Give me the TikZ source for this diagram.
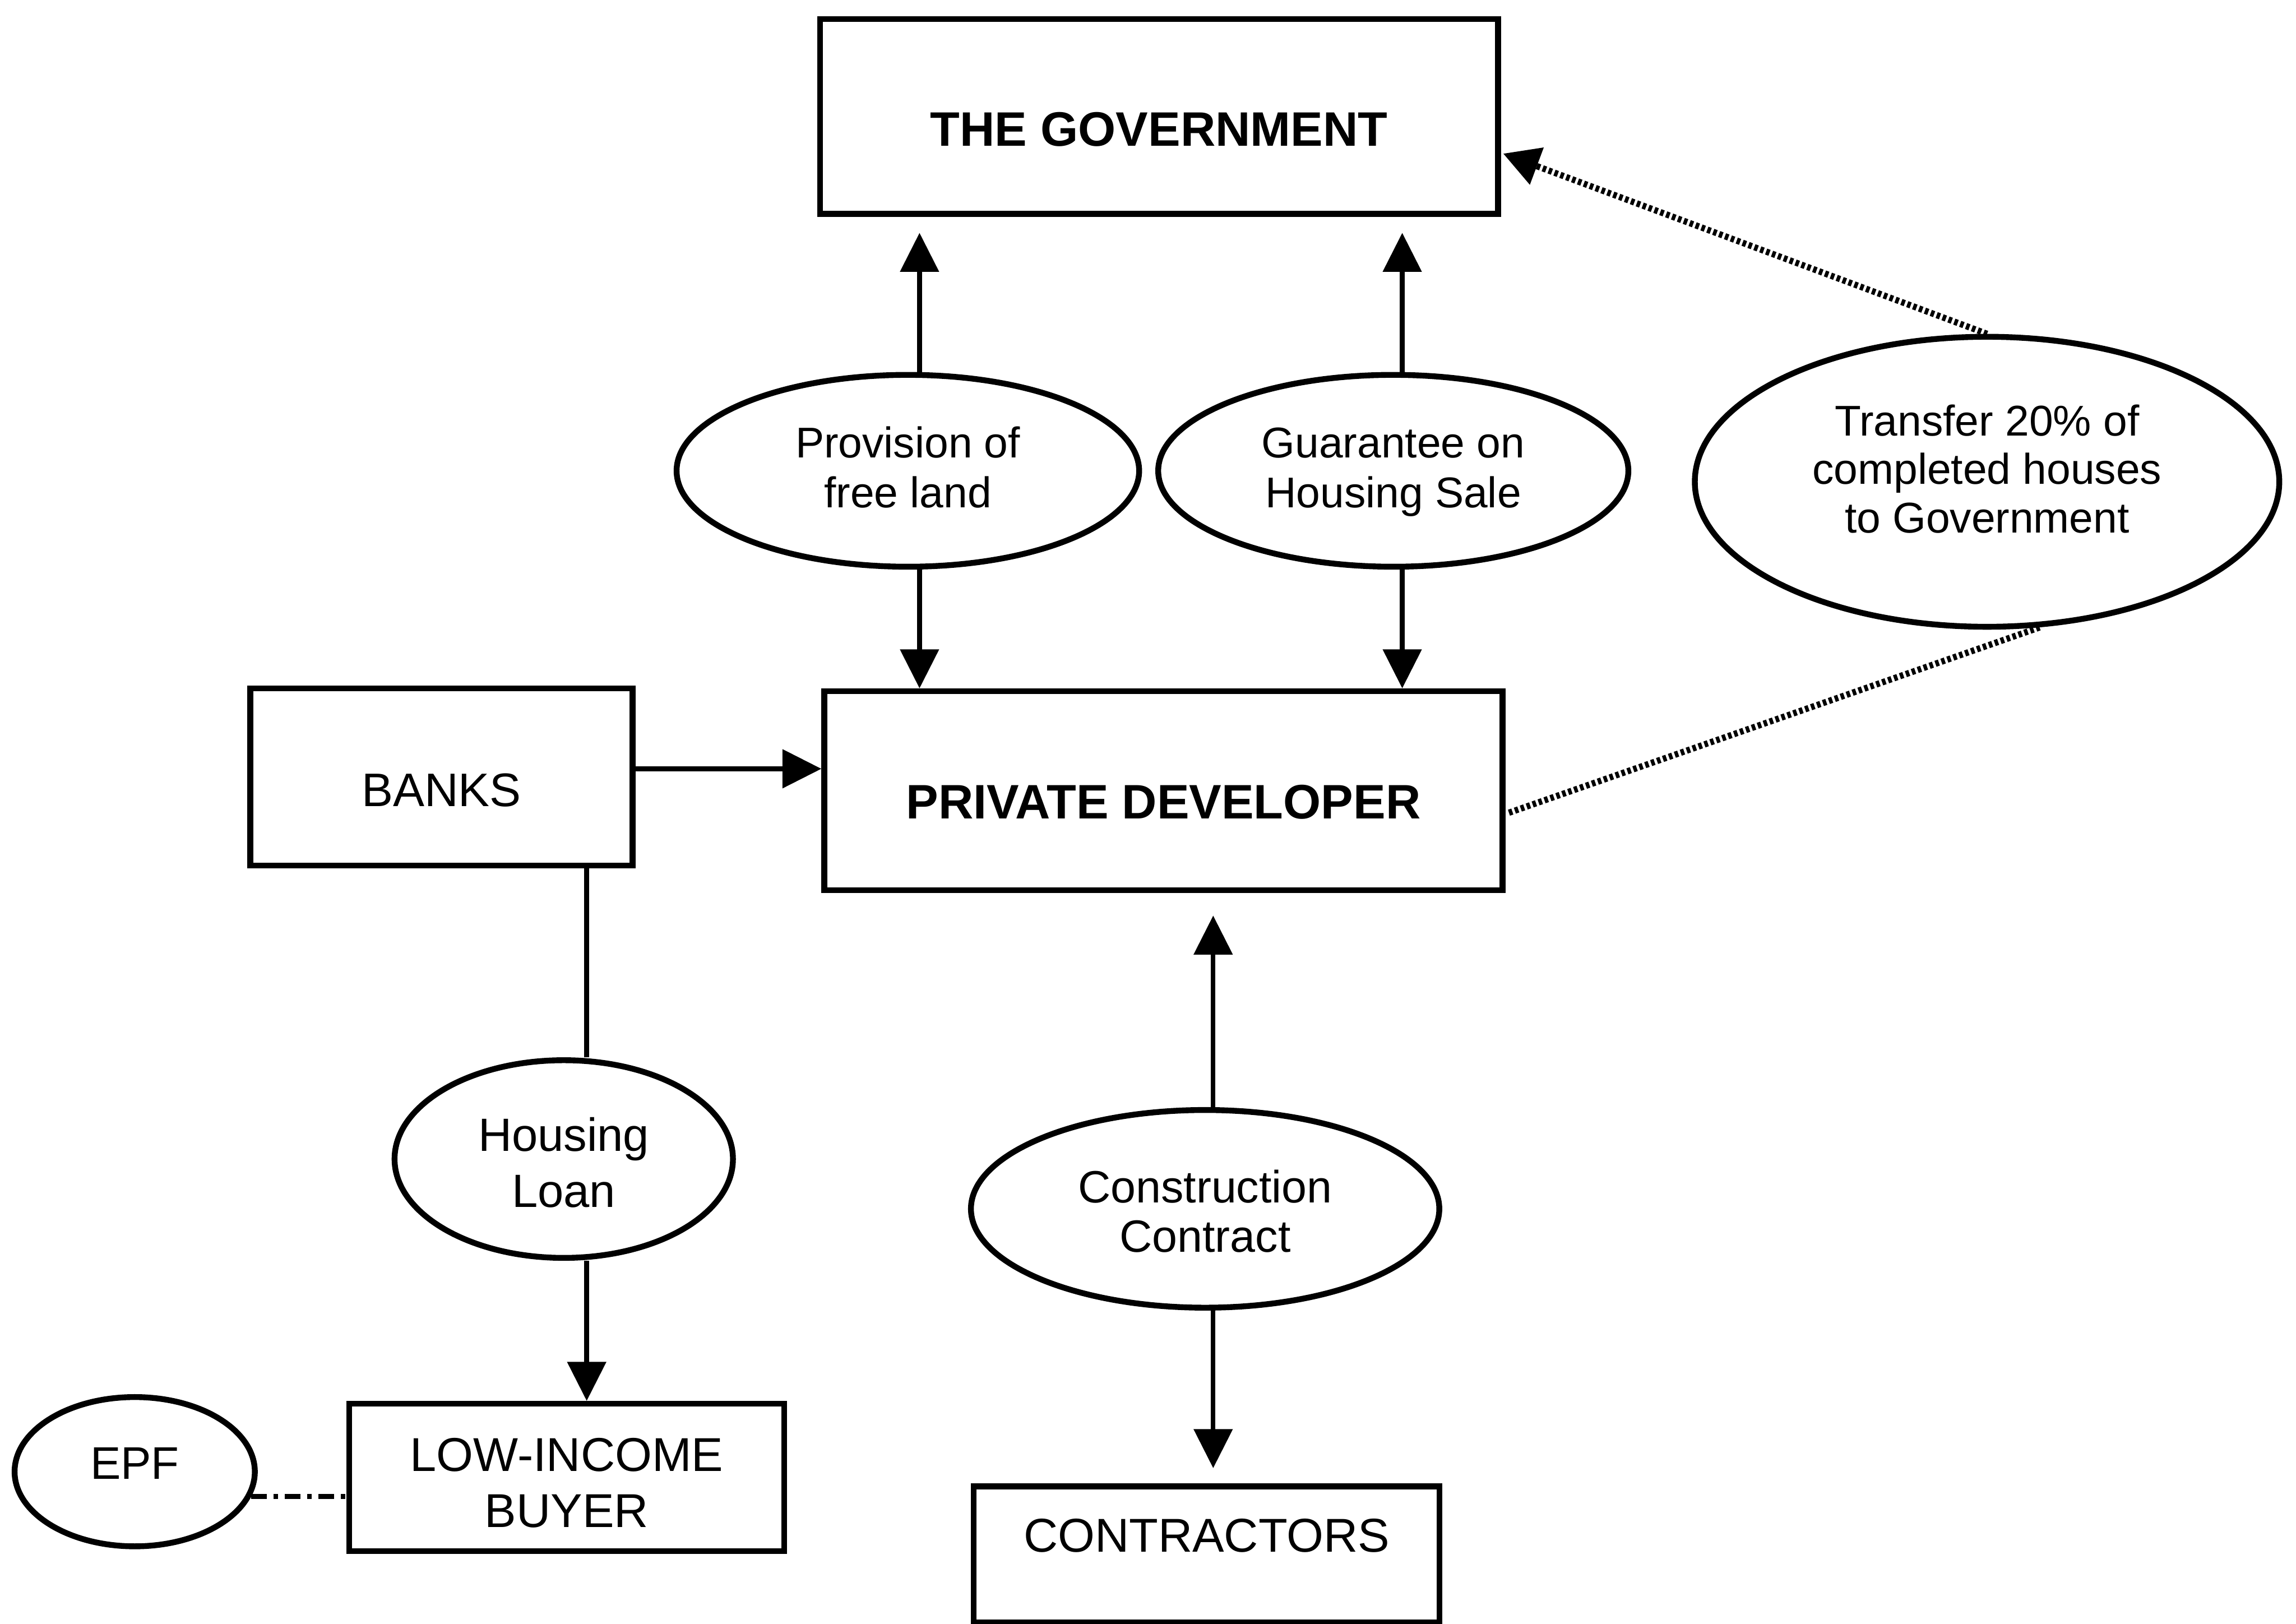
\documentclass[tikz,border=0pt]{standalone}
\usepackage{fontspec}
\setmainfont{Liberation Sans}
\usetikzlibrary{arrows.meta,shapes.geometric}
% stacked centred lines, baseline on the first line
\newcommand{\stacktext}[1]{\begin{tabular}[t]{@{}c@{}}#1\end{tabular}}
\begin{document}
\begin{tikzpicture}[x=0.3267pt,y=-0.3267pt,
  box/.style={draw, line width=1.3pt, inner sep=0pt, font=\fontsize{10.5}{12.5}\selectfont},
  hbox/.style={box, font=\fontsize{10.8}{13}\selectfont\bfseries},
  oval/.style={draw, ellipse, line width=1.3pt, inner sep=0pt, font=\fontsize{9.6}{11.2}\selectfont},
  arr/.style={line width=1.05pt, -{Triangle[length=8.7pt,width=8.5pt]}},
  link/.style={line width=1.05pt},
  dotline/.style={line width=1.4pt, dash pattern=on 0.8pt off 0.6pt},
  epfline/.style={line width=1.2pt, dash pattern=on 3.5pt off 1.5pt on 1pt off 1.5pt},
]
\useasboundingbox (0,0) rectangle (1568,1109);

% boxes
\node[hbox, minimum width=151.3pt, minimum height=43.45pt, text height=16.3pt, text depth=3pt] (gov) at (791.5,79.5) {THE GOVERNMENT};
\node[hbox, minimum width=151.3pt, minimum height=44.4pt, text height=15.5pt, text depth=3pt] (dev) at (794.5,540) {PRIVATE DEVELOPER};
\node[box, minimum width=85.3pt, minimum height=39.5pt, text height=16.2pt, text depth=3pt] (banks) at (301.5,530.5) {BANKS};
\node[box, font=\fontsize{10.6}{12.5}\selectfont, minimum width=97pt, minimum height=32.9pt, text height=12.7pt, text depth=15.5pt] (buyer) at (387,1009) {\stacktext{LOW-INCOME\\BUYER}};
\node[box, font=\fontsize{10.6}{12.5}\selectfont, minimum width=103.9pt, minimum height=30.4pt, text height=1.9pt, text depth=3pt] (contr) at (824,1061.5) {CONTRACTORS};

% ellipses
\node[oval, minimum width=103.2pt, minimum height=42.8pt, text height=8.3pt, text depth=14.2pt] (prov) at (620,321.5) {\stacktext{Provision of\\free land}};
\node[oval, minimum width=104.9pt, minimum height=42.8pt, text height=8.3pt, text depth=14.2pt] (guar) at (951.5,321.5) {\stacktext{Guarantee on\\Housing Sale}};
\node[oval, font=\fontsize{9.6}{10.8}\selectfont, minimum width=130.4pt, minimum height=64.7pt, text height=4.1pt, text depth=24.6pt] (transfer) at (1357,329) {\stacktext{Transfer 20\% of\\completed houses\\to Government}};
\node[oval, font=\fontsize{10.4}{12.6}\selectfont, minimum width=75.5pt, minimum height=44.1pt, text height=12pt, text depth=15.6pt] (hl) at (385,791.5) {\stacktext{Housing\\Loan}};
\node[oval, font=\fontsize{10.1}{11.1}\selectfont, minimum width=104.5pt, minimum height=44.1pt, text height=11.3pt, text depth=14.1pt] (cc) at (823,825.5) {\stacktext{Construction\\Contract}};
\node[oval, font=\fontsize{10.2}{12}\selectfont, minimum width=53.6pt, minimum height=33.3pt, text height=6.3pt, text depth=3pt] (epf) at (92,1005) {EPF};

% government <-> developer
\draw[arr, shorten >=3.6pt] ([xshift=2.6pt]prov.north) -- ([xshift=2.6pt]prov.north |- gov.south);
\draw[arr] ([xshift=2.6pt]prov.south) -- ([xshift=2.6pt]prov.south |- dev.north);
\draw[arr, shorten >=3.6pt] ([xshift=2pt]guar.north) -- ([xshift=2pt]guar.north |- gov.south);
\draw[arr] ([xshift=2pt]guar.south) -- ([xshift=2pt]guar.south |- dev.north);

% transfer of houses
\coordinate (govin) at ([xshift=0.5pt,yshift=-8.3pt]gov.east);
\draw[dotline, -{Triangle[length=8pt,width=8.5pt]}] (transfer.north) -- (govin);
\draw[dotline] ([xshift=0.8pt,yshift=-4.9pt]dev.east) -- (transfer.-70);

% banks
\draw[arr] ([yshift=1.8pt]banks.east) -- ([yshift=1.8pt]banks.east -| dev.west);
\coordinate (loanx) at ([xshift=-10.9pt]banks.south east);
\draw[link] (loanx) -- (loanx |- hl.north);
\draw[arr] (loanx |- hl.south) -- (loanx |- buyer.north);

% EPF
\draw[epfline] (epf.-12) -- (epf.-12 -| buyer.west);

% construction
\draw[arr, shorten >=5pt] ([xshift=1.8pt]cc.north) -- ([xshift=1.8pt]cc.north |- dev.south);
\draw[arr, shorten >=3.4pt] ([xshift=1.8pt]cc.south) -- ([xshift=1.8pt]cc.south |- contr.north);
\end{tikzpicture}
\end{document}
